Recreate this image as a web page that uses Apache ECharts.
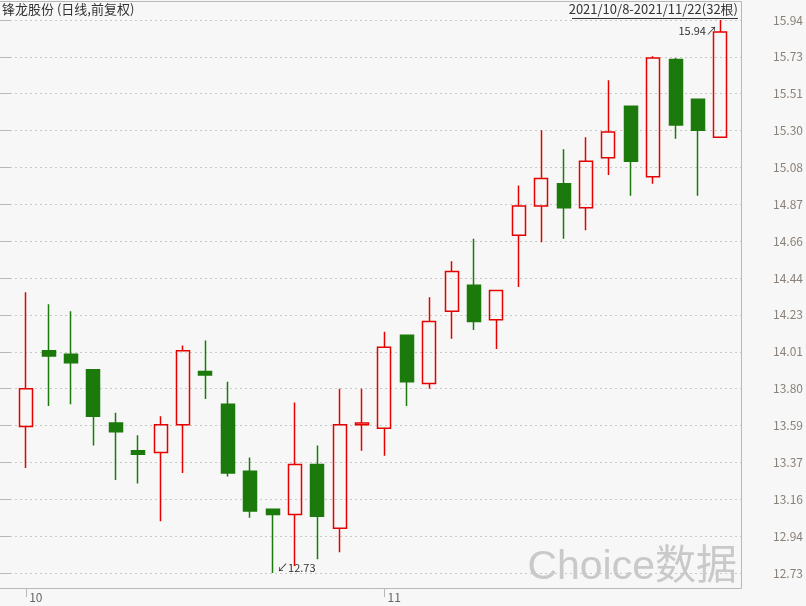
<!DOCTYPE html>
<html>
<head>
<meta charset="utf-8">
<script src="https://cdn.jsdelivr.net/npm/echarts@6/dist/echarts.min.js"></script>
<style>
html,body{margin:0;padding:0;background:#f7f7f7;}
#main{width:806px;height:606px;}
</style>
</head>
<body>
<div id="main"></div>
<script>
// ---- data ----
var dates = ['2021-10-08','2021-10-11','2021-10-12','2021-10-13','2021-10-14','2021-10-15',
  '2021-10-18','2021-10-19','2021-10-20','2021-10-21','2021-10-22',
  '2021-10-25','2021-10-26','2021-10-27','2021-10-28','2021-10-29',
  '2021-11-01','2021-11-02','2021-11-03','2021-11-04','2021-11-05',
  '2021-11-08','2021-11-09','2021-11-10','2021-11-11','2021-11-12',
  '2021-11-15','2021-11-16','2021-11-17','2021-11-18','2021-11-19',
  '2021-11-22'];
var opens  = [13.58,14.02,14.00,13.91,13.60,13.44,13.43,13.59,13.90,13.71,13.32,13.10,13.07,13.36,12.99,13.59,
              13.57,14.11,13.83,14.25,14.40,14.20,14.69,14.86,14.99,14.85,15.14,15.44,15.03,15.71,15.48,15.26];
var closes = [13.80,13.99,13.95,13.64,13.55,13.42,13.59,14.02,13.88,13.31,13.09,13.07,13.36,13.06,13.59,13.60,
              14.04,13.84,14.19,14.48,14.19,14.37,14.86,15.02,14.85,15.12,15.29,15.12,15.72,15.33,15.30,15.87];
var lows   = [13.34,13.70,13.71,13.47,13.27,13.25,13.03,13.31,13.74,13.29,13.05,12.73,12.77,12.81,12.85,13.44,
              13.41,13.70,13.80,14.09,14.14,14.03,14.39,14.65,14.67,14.72,15.04,14.92,14.99,15.25,14.92,15.26];
var highs  = [14.36,14.29,14.25,13.91,13.66,13.53,13.64,14.05,14.08,13.84,13.40,13.10,13.72,13.47,13.80,13.80,
              14.13,14.11,14.33,14.54,14.67,14.37,14.98,15.30,15.19,15.26,15.59,15.44,15.73,15.72,15.48,15.94];
var yMin = 12.73, yMax = 15.94, yStep = 0.214;
var titleText = '锋龙股份 (日线,前复权)';
var rangeText = '2021/10/8-2021/11/22(32根)';

var kdata = dates.map(function(d, i){ return [opens[i], closes[i], lows[i], highs[i]]; });
function monthStart(i){ return i === 0 || dates[i].slice(5,7) !== dates[i-1].slice(5,7); }

var RED = '#e60000', GREEN = '#1b7a0b';
var FONT = '"Noto Sans CJK SC","Microsoft YaHei",sans-serif';

var chart = echarts.init(document.getElementById('main'), null, {renderer:'canvas'});
chart.setOption({
  backgroundColor: '#f7f7f7',
  animation: false,
  grid: [
    {left: 15, right: 74.4, top: 20, bottom: 33},
    {left: 0, right: 65, top: 20, bottom: 33}
  ],
  xAxis: [
    {
      type: 'category', gridIndex: 0, data: dates, boundaryGap: true, offset: 15,
      axisLine: {show: false},
      axisTick: {show: true, alignWithLabel: true, length: 9,
        interval: function(i){ return monthStart(i); },
        lineStyle: {color: '#b8b8b8'}},
      axisLabel: {show: true, interval: function(i){ return monthStart(i); },
        formatter: function(v){ return String(parseInt(v.slice(5,7),10)); },
        align: 'left', margin: 3, padding: [0,0,0,3],
        color: '#666', fontSize: 12, fontFamily: FONT},
      splitLine: {show: false}
    },
    {type: 'value', gridIndex: 1, show: false, min: 0, max: 1}
  ],
  yAxis: [
    {type: 'value', gridIndex: 0, min: yMin, max: yMax, show: false, splitLine: {show:false}},
    {
      type: 'value', gridIndex: 1, position: 'right', min: yMin, max: yMax, interval: yStep,
      axisLine: {show: false},
      axisTick: {show: true, length: 10, lineStyle: {color: '#b8b8b8'}},
      axisLabel: {margin: 32, color: '#8a8178', fontSize: 12, fontFamily: FONT,
        formatter: function(v){ return v.toFixed(2); }},
      splitLine: {show: true, lineStyle: {color: '#c8c8c8', type: [2, 3], width: 1}}
    }
  ],
  series: [{
    type: 'candlestick', xAxisIndex: 0, yAxisIndex: 0,
    data: kdata,
    barWidth: 13.5,
    itemStyle: {color: 'transparent', color0: GREEN, borderColor: RED, borderColor0: GREEN, borderWidth: 1.5},
    markPoint: {
      symbol: 'circle', symbolSize: 1,
      itemStyle: {color: 'rgba(0,0,0,0)'},
      data: [
        {type: 'max', valueDim: 'highest',
          label: {show: true, position: 'left', distance: 3, offset: [0, 11],
            formatter: function(p){ return p.value.toFixed(2) + '↗'; },
            color: '#333', fontSize: 11, fontFamily: FONT}},
        {type: 'min', valueDim: 'lowest',
          label: {show: true, position: 'right', distance: 4, offset: [0, -5],
            formatter: function(p){ return '↙' + p.value.toFixed(2); },
            color: '#333', fontSize: 11, fontFamily: FONT}}
      ]
    }
  }],
  graphic: [
    {type: 'polyline', silent: true, z: 1,
      shape: {points: [[0, 1.5], [741.5, 1.5], [741.5, 588.5], [0, 588.5]]},
      style: {stroke: '#b8b8b8', lineWidth: 1, fill: null}},
    {type: 'text', left: 2, top: 3, z: 10,
      style: {text: titleText, fill: '#333', font: '13px ' + FONT}},
    {type: 'text', right: 68, top: 3, z: 10,
      style: {text: rangeText, fill: '#333', font: '13px ' + FONT}},
    {type: 'line', silent: true, z: 10,
      shape: {x1: 572, y1: 18.5, x2: 738, y2: 18.5},
      style: {stroke: '#333', lineWidth: 1}},
    {type: 'text', z: 20, silent: true, x: 737, y: 568,
      style: {text: 'Choice数据', fill: '#c9c9c9', font: '41px "Liberation Sans","Noto Sans CJK SC",sans-serif',
        textAlign: 'right', textVerticalAlign: 'middle'}}
  ]
});
</script>
</body>
</html>
